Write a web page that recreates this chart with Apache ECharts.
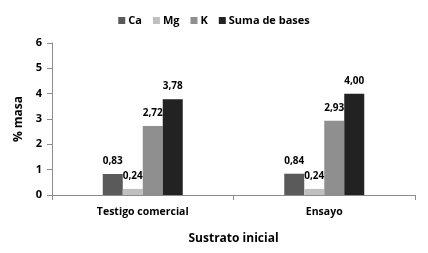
<!DOCTYPE html>
<html>
<head>
<meta charset="utf-8">
<script src="https://cdn.jsdelivr.net/npm/echarts@6/dist/echarts.min.js"></script>
<style>
  html, body { margin: 0; padding: 0; background: #fff; }
  #chart { width: 428px; height: 253px; }
</style>
</head>
<body>
<div id="chart"></div>
<script>
// datos
var categorias = ['Testigo comercial', 'Ensayo']
var ca = [0.83, 0.84]
var mg = [0.24, 0.24]
var k = [2.72, 2.93]
var suma = [3.78, 4.00]
var yTicks = [0, 1, 2, 3, 4, 5, 6]

var fuente = '"Open Sans", "Liberation Sans", sans-serif'
var colores = ['#5a5a5a', '#c0c0c0', '#8f8f8f', '#222222']

function fmt(p) {
	return p.value.toFixed(2).replace('.', ',')
}

function serie(name, data, color) {
	return {
		name: name,
		type: 'bar',
		data: data,
		barWidth: 20,
		barGap: '0%',
		itemStyle: { color: color },
		label: {
			show: true,
			position: 'top',
			distance: 8,
			formatter: fmt,
			fontFamily: fuente,
			fontWeight: 'bold',
			fontSize: 10,
			color: '#000'
		}
	}
}

var chart = echarts.init(document.getElementById('chart'))
chart.setOption({
	animation: false,
	textStyle: { fontFamily: fuente },
	legend: {
		top: 10,
		left: 'center',
		itemWidth: 7,
		itemHeight: 7,
		itemGap: 11,
		icon: 'rect',
		textStyle: { fontFamily: fuente, fontWeight: 'bold', fontSize: 11, color: '#000', padding: [0, 0, 0, -2] },
		data: ['Ca', 'Mg', 'K', 'Suma de bases']
	},
	grid: { left: 52, right: 13, top: 43, bottom: 58 },
	xAxis: {
		type: 'category',
		data: categorias,
		name: 'Sustrato inicial',
		nameLocation: 'middle',
		nameGap: 38,
		nameTextStyle: { fontFamily: fuente, fontWeight: 'bold', fontSize: 12, color: '#000' },
		axisLine: { lineStyle: { color: '#8c8c8c' } },
		axisTick: { show: true, length: 5, lineStyle: { color: '#8c8c8c' } },
		axisLabel: { fontFamily: fuente, fontWeight: 'bold', fontSize: 10.5, color: '#000', margin: 12 }
	},
	yAxis: {
		type: 'value',
		min: yTicks[0],
		max: yTicks[yTicks.length - 1],
		interval: 1,
		name: '% masa',
		nameLocation: 'middle',
		nameGap: 26,
		nameTextStyle: { fontFamily: fuente, fontWeight: 'bold', fontSize: 12, color: '#000' },
		axisLine: { show: true, lineStyle: { color: '#8c8c8c' } },
		axisTick: { show: true, length: 5, lineStyle: { color: '#8c8c8c' } },
		splitLine: { show: false },
		axisLabel: { fontFamily: fuente, fontWeight: 'bold', fontSize: 11, color: '#000', margin: 10 }
	},
	series: [
		serie('Ca', ca, colores[0]),
		serie('Mg', mg, colores[1]),
		serie('K', k, colores[2]),
		serie('Suma de bases', suma, colores[3])
	]
})
</script>
</body>
</html>
